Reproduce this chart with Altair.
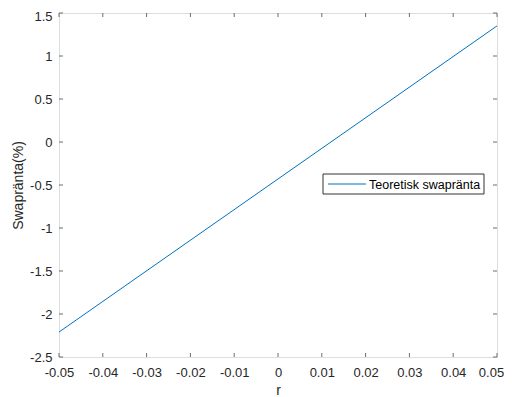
import altair as alt
import pandas as pd

# Data
r_vals = [-0.05, 0.05]
swap_vals = [-2.21, 1.35]
x_ticks = [-0.05, -0.04, -0.03, -0.02, -0.01, 0, 0.01, 0.02, 0.03, 0.04, 0.05]
y_ticks = [-2.5, -2, -1.5, -1, -0.5, 0, 0.5, 1, 1.5]
series_name = "Teoretisk swapränta"
x_title = "r"
y_title = "Swapränta(%)"

W, H = 438, 344
TICK = 4
FONT = "Liberation Sans"
TEXT_COLOR = "#262626"
LINE_COLOR = "#6e6e6e"

line_df = pd.DataFrame({"r": r_vals, "s": swap_vals})
xt_df = pd.DataFrame({"r": x_ticks})
yt_df = pd.DataFrame({"s": y_ticks})
one = pd.DataFrame({"a": [0]})

x_scale = alt.Scale(domain=[-0.05, 0.05], nice=False, zero=False)
y_scale = alt.Scale(domain=[-2.5, 1.5], nice=False, zero=False)

x_axis = alt.Axis(values=x_ticks, labelExpr="'' + datum.value", ticks=False, domain=False,
                  grid=False, labelPadding=9, labelFontSize=13, labelFont=FONT,
                  labelColor=TEXT_COLOR, title=x_title, titleFont=FONT, titleFontSize=14,
                  titleFontWeight="normal", titleColor=TEXT_COLOR, titleBaseline="alphabetic",
                  titleY=37, labelFlush=False, labelOverlap=False,
                  labelOffset={"condition": {"test": "datum.value >= 0.0499", "value": -6},
                               "value": 0})
y_axis = alt.Axis(values=y_ticks, labelExpr="'' + datum.value", ticks=False, domain=False,
                  grid=False, labelPadding=7, labelFontSize=13, labelFont=FONT,
                  labelColor=TEXT_COLOR, title=y_title, titleFont=FONT, titleFontSize=14,
                  titleFontWeight="normal", titleColor=TEXT_COLOR, titleBaseline="alphabetic",
                  titleX=-37, titleAngle=270, labelFlush=False, labelOverlap=False,
                  labelOffset={"condition": {"test": "datum.value >= 1.49", "value": 3},
                               "value": 0})

line = alt.Chart(line_df).mark_line(color="#0072BD", strokeWidth=1).encode(
    x=alt.X("r:Q", scale=x_scale, axis=x_axis),
    y=alt.Y("s:Q", scale=y_scale, axis=y_axis),
)

xt_bottom = alt.Chart(xt_df).mark_rule(color=LINE_COLOR, strokeWidth=1).encode(
    x=alt.X("r:Q", scale=x_scale, axis=x_axis), y=alt.value(H), y2=alt.value(H - TICK))
xt_top = alt.Chart(xt_df).mark_rule(color=LINE_COLOR, strokeWidth=1).encode(
    x=alt.X("r:Q", scale=x_scale, axis=x_axis), y=alt.value(0), y2=alt.value(TICK))
yt_left = alt.Chart(yt_df).mark_rule(color=LINE_COLOR, strokeWidth=1).encode(
    y=alt.Y("s:Q", scale=y_scale, axis=y_axis), x=alt.value(0), x2=alt.value(TICK))
yt_right = alt.Chart(yt_df).mark_rule(color=LINE_COLOR, strokeWidth=1).encode(
    y=alt.Y("s:Q", scale=y_scale, axis=y_axis), x=alt.value(W), x2=alt.value(W - TICK))

# Legend (MATLAB 'east' location)
leg_box = alt.Chart(one).mark_rect(fill="white", stroke="#333333", strokeWidth=1).encode(
    x=alt.value(264), x2=alt.value(425), y=alt.value(161), y2=alt.value(181))
leg_line = alt.Chart(one).mark_rule(color="#0072BD", strokeWidth=1).encode(
    x=alt.value(269), x2=alt.value(307), y=alt.value(171))
leg_text = alt.Chart(one).mark_text(align="left", baseline="middle", font=FONT,
                                    fontSize=12.5, color="#000000").encode(
    x=alt.value(310), y=alt.value(171.5), text=alt.value(series_name))

chart = alt.layer(line, xt_bottom, xt_top, yt_left, yt_right, leg_box, leg_line, leg_text).properties(
    width=W, height=H,
    autosize=alt.AutoSizeParams(type="none"),
    padding={"left": 51, "top": 5, "right": 7, "bottom": 40},
).configure_view(stroke=LINE_COLOR, strokeWidth=1).configure(background="white")

chart.save("out.html", embed_options={"renderer": "svg", "actions": False})
